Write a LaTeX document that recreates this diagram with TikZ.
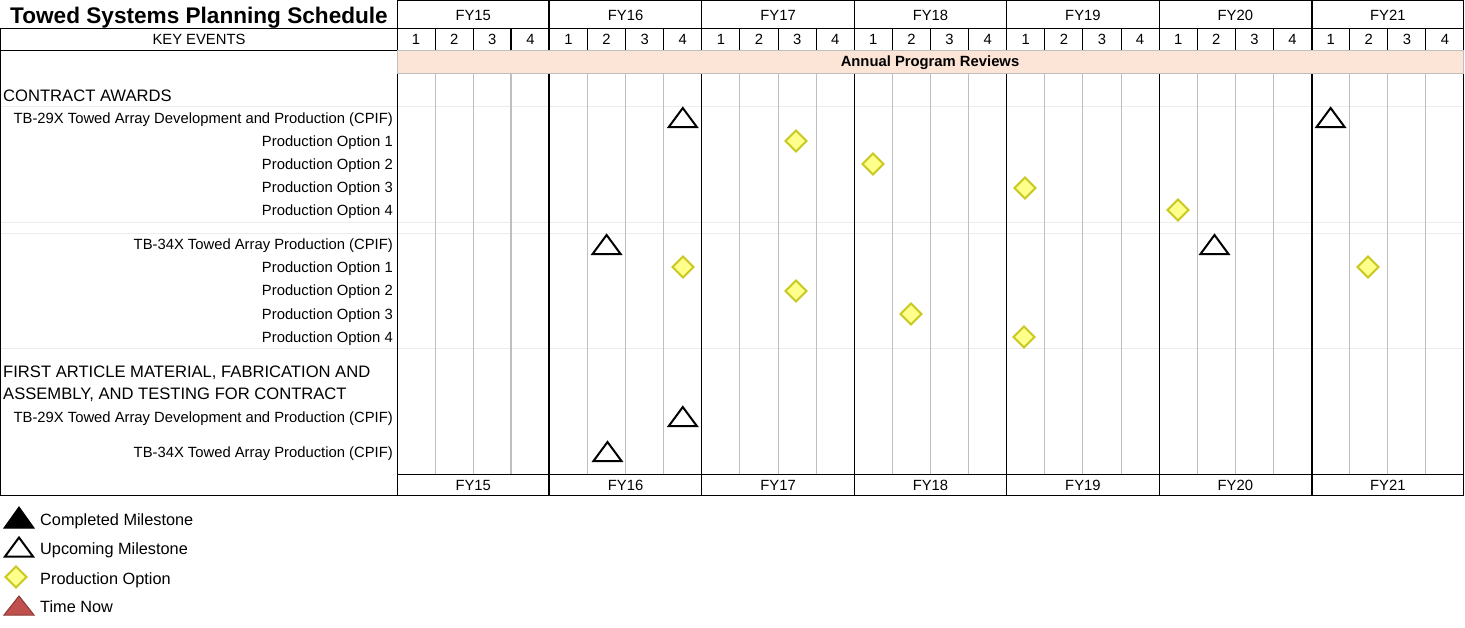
\documentclass[tikz,border=0pt]{standalone}
\usepackage{fontspec}
\setmainfont{Liberation Sans}
\definecolor{peach}{RGB}{252,228,214}
\definecolor{gridgray}{RGB}{190,190,190}
\definecolor{faint}{RGB}{236,236,236}
\definecolor{dfill}{RGB}{255,255,140}
\definecolor{ddraw}{RGB}{200,200,30}
\definecolor{tnfill}{RGB}{192,80,77}
\definecolor{tndraw}{RGB}{140,56,54}
\newcommand\UpMs[2]{\draw[upms] (#1,#2-9.5) -- (#1+14,#2+9.5) -- (#1-14,#2+9.5) -- cycle;}
\newcommand\PrOpt[2]{\draw[popt] (#1,#2-10.5) -- (#1+10.5,#2) -- (#1,#2+10.5) -- (#1-10.5,#2) -- cycle;}
\begin{document}
\begin{tikzpicture}[x=1pt,y=-1pt,
  hdr/.style={font=\fontsize{14.8}{16}\selectfont, inner sep=0, anchor=base},
  lbl/.style={font=\fontsize{14.8}{16}\selectfont, inner sep=0, anchor=base east},
  sec/.style={font=\fontsize{16.6}{22}\selectfont, inner sep=0, anchor=base west},
  leg/.style={font=\fontsize{16.3}{17}\selectfont, inner sep=0, anchor=base west},
  frame/.style={draw=black, line width=1pt},
  upms/.style={draw=black, fill=white, line width=2pt, line join=miter},
  popt/.style={draw=ddraw, fill=dfill, line width=2pt, line join=miter},
  qgray/.style={draw=gridgray, line width=1pt},
  faintline/.style={draw=faint, line width=1pt}]
\useasboundingbox (0,0) rectangle (1465,627);
\fill[white] (0,0) rectangle (1465,627);

% faint row separators
\foreach \yy in {106,222,233,348} \draw[faintline] (1,\yy) -- (1463,\yy);

% quarter lines in body (gray) and header (black)
\foreach \i in {0,...,6} {
  \foreach \q in {1,2,3} {
    \draw[qgray] (397+\i*152.43+\q*38.107,73) -- (397+\i*152.43+\q*38.107,474);
    \draw[frame] (397+\i*152.43+\q*38.107,28) -- (397+\i*152.43+\q*38.107,50);
  }
}
% slightly heavier quarter lines
\foreach \xx in {511.3,892.4,930.5,1273.4} \draw[draw=gridgray, line width=1.8pt] (\xx,73) -- (\xx,474);
\foreach \xx in {511.3,587.5,892.4,930.5,1273.4} \draw[draw=black, line width=1.8pt] (\xx,28) -- (\xx,50);

% year lines
\foreach \i in {2,3,4,5} \draw[frame] (397+\i*152.43,0) -- (397+\i*152.43,496);
\foreach \i in {1,6} \draw[draw=black, line width=2pt] (397+\i*152.43,0) -- (397+\i*152.43,496);

% frame lines
\draw[frame] (397,0.5) -- (1463.5,0.5);
\draw[frame] (0.5,28) -- (1463.5,28);
\draw[frame] (0.5,50) -- (1463.5,50);
\draw[frame] (397,474) -- (1463.5,474);
\draw[frame] (0.5,495.5) -- (1463.5,495.5);
\draw[frame] (0.5,28) -- (0.5,495.5);
\draw[frame] (397,0) -- (397,496);
\draw[frame] (1463.5,0) -- (1463.5,496);

% annual program review band
\draw[fill=peach, draw=gridgray, line width=0.8pt] (397.5,50.5) rectangle (1463,73);
\node[font=\fontsize{14.8}{16}\selectfont\bfseries, inner sep=0, anchor=base] (apr) at (930,66.5) {Annual Program Reviews};

% headers
\node[font=\fontsize{22.6}{24}\selectfont\bfseries, inner sep=0, anchor=base] (title) at (199,23) {Towed Systems Planning Schedule};
\node[hdr] (keyev) at (199,44.5) {KEY EVENTS};
\foreach \yr [count=\i from 0] in {15,...,21} {
  \pgfmathsetmacro\xl{397+\i*152.43}
  \node[hdr] (top\yr) at (\xl+76.2,20.5) {FY\yr};
  \node[hdr] (bot\yr) at (\xl+76.2,490.5) {FY\yr};
  \foreach \q in {1,...,4} {
    \node[hdr] (q\yr-\q) at (\xl+\q*38.107-19.05,44.5) {\q};
  }
}

% left column labels
\node[sec] (ca) at (3,101) {CONTRACT AWARDS};
\node[lbl] (r29) at (393,123.5) {TB-29X Towed Array Development and Production (CPIF)};
\node[lbl] (r29a) at (393,146.5) {Production Option 1};
\node[lbl] (r29b) at (393,169.5) {Production Option 2};
\node[lbl] (r29c) at (393,192.5) {Production Option 3};
\node[lbl] (r29d) at (393,215.5) {Production Option 4};
\node[lbl] (r34) at (393,249.5) {TB-34X Towed Array Production (CPIF)};
\node[lbl] (r34a) at (393,272.5) {Production Option 1};
\node[lbl] (r34b) at (393,295.5) {Production Option 2};
\node[lbl] (r34c) at (393,319.5) {Production Option 3};
\node[lbl] (r34d) at (393,342.5) {Production Option 4};
\node[sec] (fa1) at (3,377) {FIRST ARTICLE MATERIAL, FABRICATION AND};
\node[sec] (fa2) at (3,399) {ASSEMBLY, AND TESTING FOR CONTRACT};
\node[lbl] (fa29) at (393,422.5) {TB-29X Towed Array Development and Production (CPIF)};
\node[lbl] (fa34) at (393,457.5) {TB-34X Towed Array Production (CPIF)};

% markers
\UpMs{682.8}{117.5}
\UpMs{1330.6}{117.5}
\UpMs{606.6}{244.5}
\UpMs{1214.5}{244.5}
\UpMs{682.8}{416.5}
\UpMs{607.5}{451.5}
\PrOpt{796}{141}
\PrOpt{873}{164}
\PrOpt{1025}{188}
\PrOpt{1178}{210}
\PrOpt{683}{267}
\PrOpt{1368}{267}
\PrOpt{796}{291}
\PrOpt{911}{314}
\PrOpt{1024}{337}

% legend
\draw[draw=black, fill=black, line width=1pt] (19,507) -- (34,528) -- (4,528) -- cycle;
\UpMs{19}{547}
\PrOpt{16}{577}
\draw[draw=tndraw, fill=tnfill, line width=1pt] (19,596) -- (34,615) -- (4,615) -- cycle;
\node[leg] (lg1) at (40,525) {Completed Milestone};
\node[leg] (lg2) at (40,554) {Upcoming Milestone};
\node[leg] (lg3) at (40,584) {Production Option};
\node[leg] (lg4) at (40,612) {Time Now};
\end{tikzpicture}
\end{document}
